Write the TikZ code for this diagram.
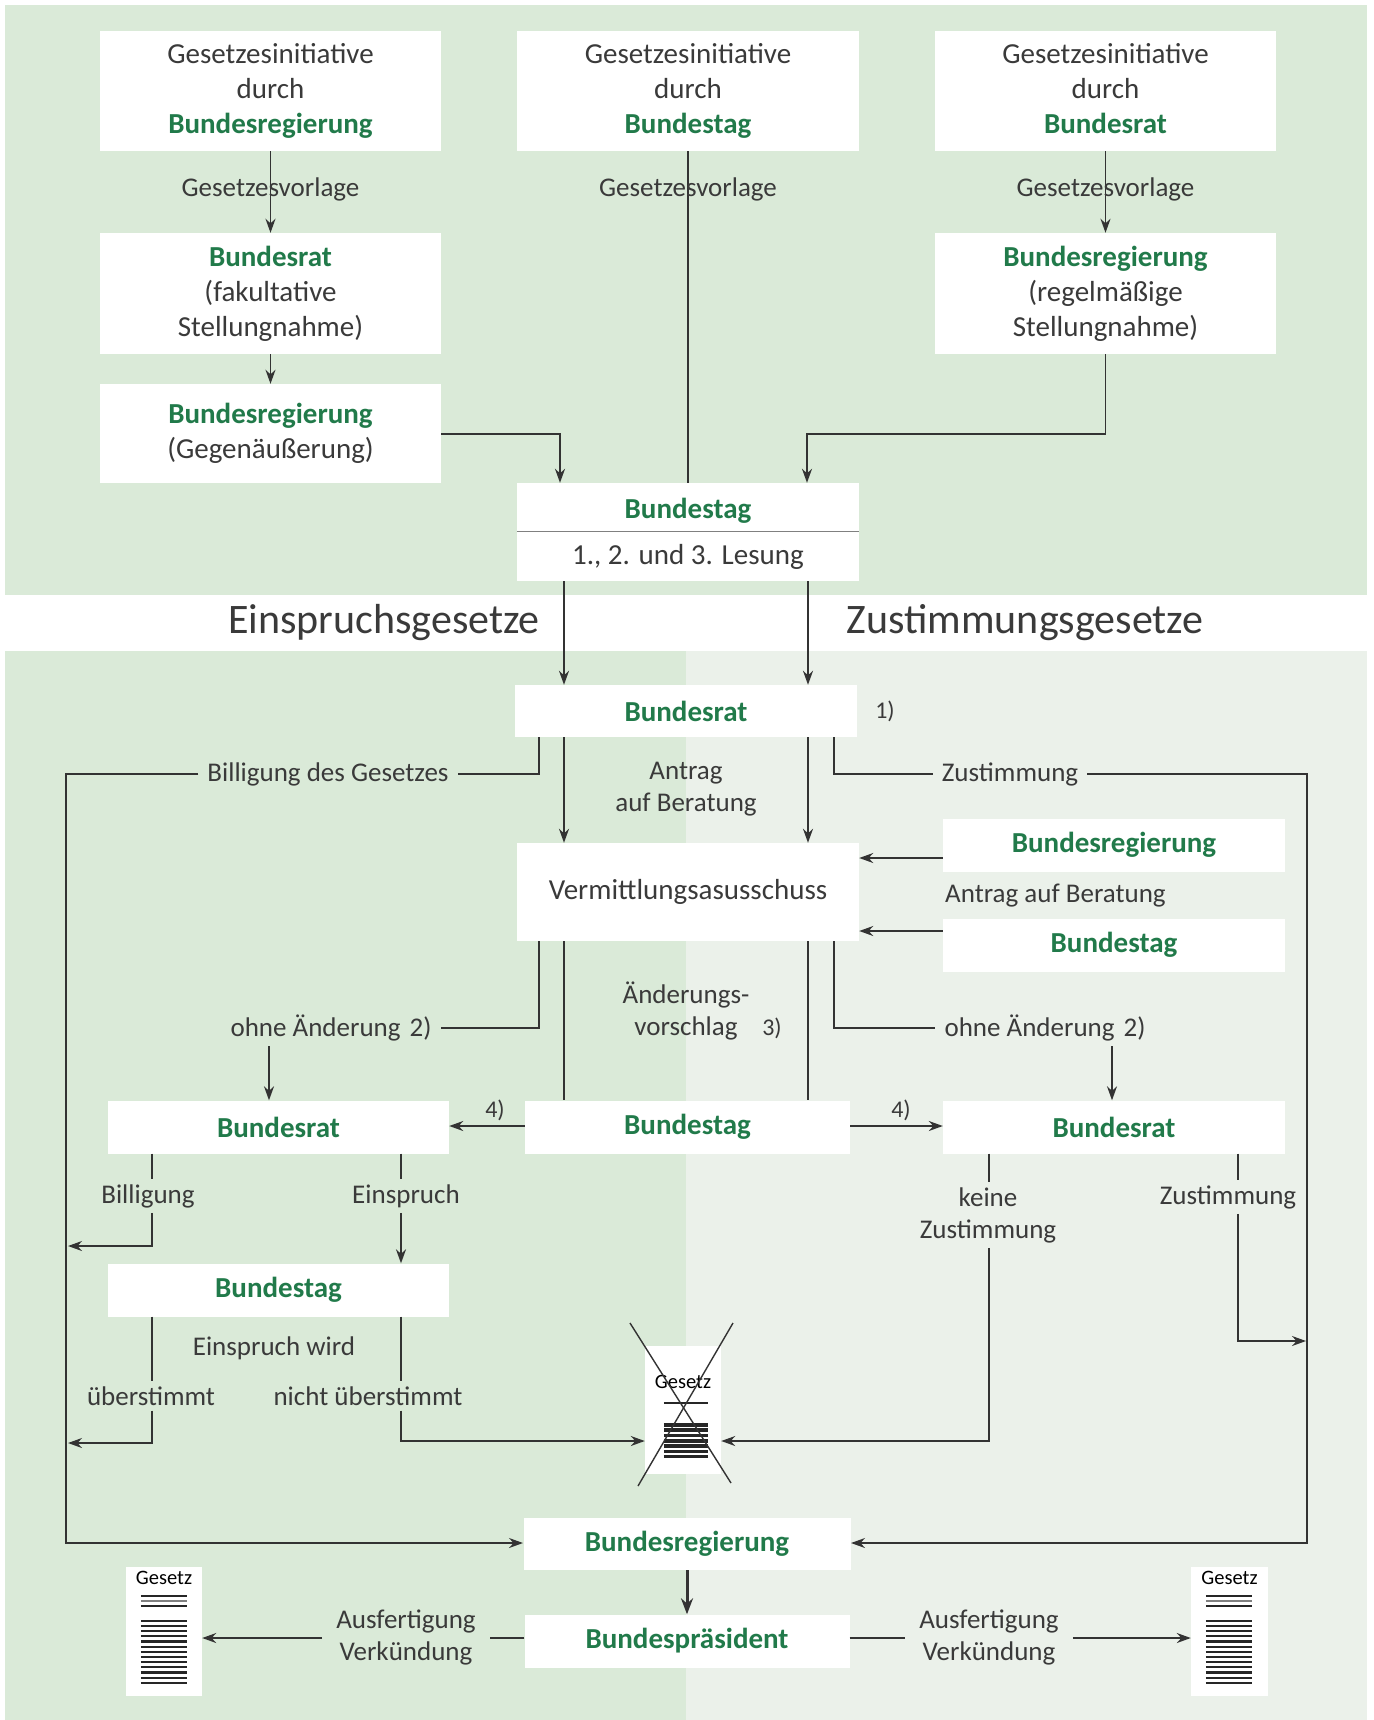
\documentclass[tikz,border=0pt]{standalone}
\usepackage{fontspec}
\setmainfont{Carlito}
\usetikzlibrary{arrows.meta}
\definecolor{hgreen}{RGB}{33,122,74}
\definecolor{txt}{RGB}{58,58,58}
\definecolor{ln}{RGB}{51,51,51}
\definecolor{bgmain}{RGB}{218,234,216}
\definecolor{bglight}{RGB}{235,241,234}

\begin{document}
\begin{tikzpicture}[x=1pt, y=-1pt,
      every node/.append style={inner sep=0pt, align=center, text=txt, font=\fontsize{27}{32}\selectfont}]
    \tikzstyle{box} = [fill=white, font=\fontsize{29}{35}\selectfont]
    \tikzstyle{hbox} = [box, text=hgreen, font=\fontsize{29}{35}\selectfont\bfseries]
    \tikzstyle{lbl} = [inner xsep=9pt, inner ysep=5pt, font=\fontsize{27}{32}\selectfont]
    \tikzstyle{fn} = [font=\fontsize{24}{28}\selectfont]
    \tikzstyle{head} = [font=\fontsize{42}{50}\selectfont]
    \tikzstyle{conn} = [draw=ln, line width=1.6pt]
    \tikzstyle{arr} = [conn, -{Stealth[length=14pt,width=10pt]}]
    \tikzstyle{doc} = [fill=white, minimum width=76pt, minimum height=129pt]
    \tikzstyle{docline} = [draw=black!85, line width=2.2pt]
    \useasboundingbox (0,0) rectangle (1373,1720);
    % backgrounds
    \fill[bgmain] (5,5) rectangle (1367,595);
    \fill[bgmain] (5,651) rectangle (686,1720);
    \fill[bglight] (686,651) rectangle (1367,1720);
    % lanes
    \coordinate (laneA) at (564,0);
    \coordinate (laneB) at (808,0);
    \coordinate (laneC) at (539,0);
    \coordinate (laneD) at (834,0);
    \coordinate (laneL) at (66,0);
    \coordinate (laneR) at (1307,0);

    % initiative
    \node[box, minimum width=341pt, minimum height=120pt] (iniReg) at (270.5,91) {Gesetzesinitiative\\durch\\{\color{hgreen}\bfseries Bundesregierung}};
    \node[box, minimum width=342pt, minimum height=120pt] (iniTag) at (688,91) {Gesetzesinitiative\\durch\\{\color{hgreen}\bfseries Bundestag}};
    \node[box, minimum width=341pt, minimum height=120pt] (iniRat) at (1105.5,91) {Gesetzesinitiative\\durch\\{\color{hgreen}\bfseries Bundesrat}\vphantom{g}};
    \node[box, minimum width=341pt, minimum height=121pt] (fakRat) at (270.5,293.5) {{\color{hgreen}\bfseries Bundesrat}\\(fakultative\\Stellungnahme)};
    \node[box, minimum width=341pt, minimum height=121pt] (regReg) at (1105.5,293.5) {{\color{hgreen}\bfseries Bundesregierung}\\(regelmäßige\\Stellungnahme)};
    \node[box, minimum width=341pt, minimum height=99pt] (gegen) at (270.5,433.5) {{\color{hgreen}\bfseries Bundesregierung}\\(Gegenäußerung)};
    \node[hbox, minimum width=342pt, minimum height=55pt] (btTop) at (688,510.5) {Bundestag};
    \node[box, minimum width=342pt, minimum height=49pt] (btLes) at (688,556.5) {1., 2. und 3. Lesung};
    \draw[draw=gray, line width=0.8pt] (btLes.north west) -- (btLes.north east);

    \draw[arr] (iniReg) -- (fakRat);
    \draw[conn] (iniTag) -- (btTop);
    \draw[arr] (iniRat) -- (regReg);
    \node (vorlReg) at (iniReg |- 0,189) {Gesetzesvorlage};
    \node (vorlTag) at (iniTag |- 0,189) {Gesetzesvorlage};
    \node (vorlRat) at (iniRat |- 0,189) {Gesetzesvorlage};
    \draw[arr] (fakRat) -- (gegen);
    \coordinate (kL) at (560,434);
    \coordinate (kR) at (807,434);
    \draw[arr] (gegen.east |- kL) -- (kL) -- (kL |- btTop.north);
    \draw[arr] (regReg.south) |- (kR) -- (kR |- btTop.north);

    \node[head] (einspr) at (384,623) {Einspruchsgesetze};
    \node[head] (zustG) at (1025,623) {Zustimmungsgesetze};

    % Bundesrat and Vermittlungsausschuss
    \node[hbox, minimum width=342pt, minimum height=52pt] (brat) at (686,711) {Bundesrat};
    \node[fn] (fn1) at (885,711) {1)};
    \draw[arr, line width=2pt] (btLes.south -| laneA) -- (brat.north -| laneA);
    \draw[arr, line width=2pt] (btLes.south -| laneB) -- (brat.north -| laneB);

    \node[lbl] (billG) at (328,774) {Billigung des Gesetzes};
    \node[lbl] (zustA) at (1010,774) {Zustimmung};
    \node[lbl] (antrag) at (686,789) {Antrag\\auf Beratung};
    \node[box, minimum width=342pt, minimum height=98pt] (verm) at (688,892) {Vermittlungsasusschuss};
    \draw[conn] (brat.south -| laneC) |- (billG.east);
    \draw[arr] (billG.west) -- (billG.west -| laneL) |- (0,1543 -| laneL) -- (523,1543);
    \draw[conn] (brat.south -| laneD) |- (zustA.west);
    \draw[arr] (brat.south -| laneA) -- (verm.north -| laneA);
    \draw[arr] (brat.south -| laneB) -- (verm.north -| laneB);

    \node[hbox, minimum width=342pt, minimum height=53pt] (bregR) at (1114,845) {Bundesregierung};
    \node[lbl, anchor=west, inner xsep=0pt] (antragR) at (945,896) {Antrag auf Beratung};
    \node[hbox, minimum width=342pt, minimum height=53pt] (btR) at (1114,945) {Bundestag};
    \draw[arr] (bregR.west |- 0,858) -- (verm.east |- 0,858);
    \draw[arr] (btR.west |- 0,931) -- (verm.east |- 0,931);

    % Vermittlungsergebnis
    \node[lbl] (ohneL) at (331,1028) {ohne Änderung\hspace{9pt}2)};
    \node[lbl] (aend) at (686,1011) {Änderungs-\\vorschlag};
    \node[fn] (fn3) at (772,1028) {3)};
    \node[lbl] (ohneR) at (1045,1028) {ohne Änderung\hspace{9pt}2)};
    \node[hbox, minimum width=341pt, minimum height=53pt] (bratL) at (278.5,1127) {Bundesrat};
    \node[hbox, minimum width=325pt, minimum height=53pt] (btM) at (687.5,1127) {Bundestag};
    \node[hbox, minimum width=342pt, minimum height=53pt] (bratR) at (1114,1127) {Bundesrat};
    \draw[conn] (verm.south -| laneC) |- (ohneL.east);
    \draw[arr] (ohneL.south -| 269,0) -- (bratL.north -| 269,0);
    \draw[conn] (verm.south -| laneA) -- (btM.north -| laneA);
    \draw[conn] (verm.south -| laneB) -- (btM.north -| laneB);
    \draw[conn] (verm.south -| laneD) |- (ohneR.west);
    \draw[arr] (ohneR.south -| 1112,0) -- (bratR.north -| 1112,0);
    \draw[arr] (btM.west |- 0,1126) -- (bratL.east |- 0,1126);
    \draw[arr] (btM.east |- 0,1126) -- (bratR.west |- 0,1126);
    \node[fn] (fn4L) at (495,1110) {4)};
    \node[fn] (fn4R) at (901,1110) {4)};

    % Einspruchsgesetz
    \node[lbl] (bill) at (148,1196) {Billigung};
    \node[lbl] (einsp) at (406,1196) {Einspruch};
    \node[hbox, minimum width=341pt, minimum height=53pt] (btL) at (278.5,1290) {Bundestag};
    \node[lbl] (einwird) at (274,1348) {Einspruch wird};
    \node[lbl] (ueber) at (151,1396) {überstimmt};
    \node[lbl] (nicht) at (368,1396) {nicht überstimmt};
    \draw[conn] (bratL.south -| 152,0) -- (bill.north -| 152,0);
    \draw[arr] (bill.south -| 152,0) |- (68,1246);
    \draw[conn] (bratL.south -| 401,0) -- (einsp.north -| 401,0);
    \draw[arr] (einsp.south -| 401,0) -- (btL.north -| 401,0);
    \draw[conn] (btL.south -| 152,0) -- (ueber.north -| 152,0);
    \draw[arr] (ueber.south -| 152,0) |- (68,1443);
    \draw[conn] (btL.south -| 401,0) -- (nicht.north -| 401,0);

    % gescheitertes Gesetz
    \node[doc, minimum height=128pt] (gesX) at (683,1410) {};
    \node[text=black, font=\fontsize{20.5}{24}\selectfont] (gesXtxt) at ([yshift=-36pt]gesX.north) {Gesetz};
    \begin{scope}[shift={(gesX.north west)}]
      \draw[docline] (19,57) -- (63,57);
      \foreach \k in {0,...,6}
        \draw[docline, line width=3.6pt] (19,79+5.3*\k) -- ++(44,0);
    \end{scope}
    \draw[draw=ln, line width=1.4pt] (630,1323) -- (731,1483);
    \draw[draw=ln, line width=1.4pt] (733,1323) -- (638,1486);
    \draw[arr] (nicht.south -| 401,0) |- ([yshift=-31pt]gesX.west);

    % Zustimmungsgesetz
    \node[lbl] (keine) at (988,1215) {keine\\Zustimmung};
    \node[lbl] (zustB) at (1228,1197) {Zustimmung};
    \draw[conn] (bratR.south -| 989,0) -- (keine.north -| 989,0);
    \draw[arr] (keine.south -| 989,0) |- ([yshift=-31pt]gesX.east);
    \draw[conn] (bratR.south -| 1238,0) -- (zustB.north -| 1238,0);
    \draw[arr] (zustB.south -| 1238,0) |- (1306,1341);
    \draw[arr] (zustA.east) -- (zustA.east -| laneR) |- (851,1543);

    % Ausfertigung
    \node[hbox, minimum width=327pt, minimum height=52pt] (breg) at (687,1544) {Bundesregierung};
    \node[hbox, minimum width=325pt, minimum height=53pt] (bpraes) at (687,1641) {Bundespräsident};
    \draw[conn, line width=3pt, -{Stealth[length=16pt,width=12pt]}] (breg) -- (bpraes);
    \node[doc] (gesL) at (164,1631.5) {};
    \node[doc, minimum width=77pt] (gesR) at (1229.5,1631.5) {};
    \foreach \d in {gesL,gesR} {
      \node[text=black, font=\fontsize{20.5}{24}\selectfont] (\d txt) at ([yshift=-11pt]\d.north) {Gesetz};
      \begin{scope}[shift={(\d.north west)}]
        \draw[docline] (15,29) -- (61,29);
        \draw[docline, draw=gray] (15,34) -- (61,34);
        \draw[docline] (15,39) -- (61,39);
        \foreach \k in {0,...,12}
          \draw[docline] (15,54+5.17*\k) -- ++(46,0);
      \end{scope}
    }
    \node[lbl, inner xsep=14pt] (ausL) at (406,1637) {Ausfertigung\\Verkündung};
    \node[lbl, inner xsep=14pt] (ausR) at (989,1637) {Ausfertigung\\Verkündung};
    \draw[conn] (bpraes.west |- 0,1638) -- (ausL.east |- 0,1638);
    \draw[arr] (ausL.west |- 0,1638) -- (gesL.east |- 0,1638);
    \draw[conn] (bpraes.east |- 0,1638) -- (ausR.west |- 0,1638);
    \draw[arr] (ausR.east |- 0,1638) -- (gesR.west |- 0,1638);
\end{tikzpicture}
\end{document}
